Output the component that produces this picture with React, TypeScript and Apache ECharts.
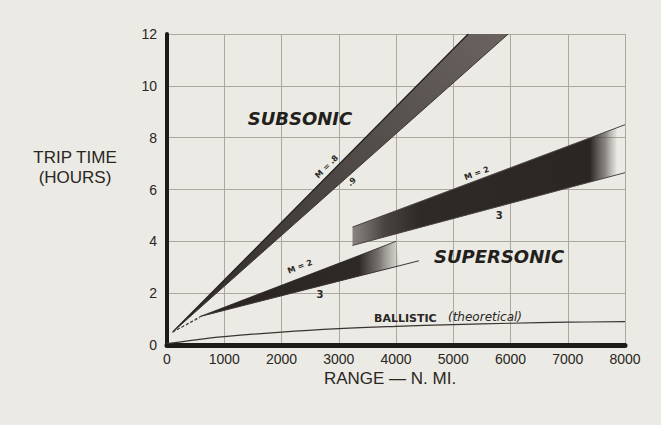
import React, { useEffect, useRef } from "react";
import * as echarts from "echarts";

// Axis ranges and tick steps
const rangeMin = 0;
const rangeMax = 8000;
const rangeStep = 1000;
const hoursMin = 0;
const hoursMax = 12;
const hoursStep = 2;

// Subsonic band edges (range n.mi., trip time h)
const subsonicM08 = [[100, 0.5], [5260, 12]];
const subsonicM09 = [[100, 0.5], [5960, 12]];

// Supersonic climb-out (dashed) leads
const supersonicLeadM2 = [[100, 0.5], [580, 1.1]];
const supersonicLeadM3 = [[100, 0.5], [580, 1.06]];

// Supersonic, non-stop band
const supersonicDirectM2 = [[580, 1.1], [4000, 4.0]];
const supersonicDirectM3 = [[580, 1.1], [4400, 3.25]];

// Supersonic band with intermediate stop
const supersonicStopM2 = [[3240, 4.55], [8000, 8.5]];
const supersonicStopM3 = [[3240, 3.84], [8000, 6.65]];

// Ballistic (theoretical)
const ballistic = [
  [0, 0.05], [500, 0.2], [1000, 0.32], [2000, 0.5], [3000, 0.63],
  [4000, 0.72], [5000, 0.79], [6000, 0.84], [7000, 0.88], [8000, 0.9],
];

const INK = "#2a2623";
const GRID = "#aca79f";

type Pt = number[];

function lerpAt(edge: Pt[], x: number): Pt {
  const [a, b] = edge;
  const t = (x - a[0]) / (b[0] - a[0]);
  return [x, a[1] + t * (b[1] - a[1])];
}

export default function App() {
  const ref = useRef<HTMLDivElement>(null);

  useEffect(() => {
    if (!ref.current) return;
    const chart = echarts.init(ref.current, undefined, { renderer: "svg" });

    const bandSeries = (
      name: string,
      upper: Pt[],
      lower: Pt[],
      endX: number,
      stops: (x0: number, x1: number) => any
    ) => ({
      name,
      type: "custom",
      coordinateSystem: "cartesian2d",
      silent: true,
      z: 3,
      data: [[0, 0]],
      renderItem: (_p: any, api: any) => {
        const up = [upper[0], lerpAt(upper, Math.min(endX, upper[1][0]))];
        const lo = [lower[0], lerpAt(lower, Math.min(endX, lower[1][0]))];
        const pts = [...up, ...lo.reverse()].map((p) => api.coord(p));
        const x0 = api.coord(upper[0])[0];
        const x1 = api.coord([endX, 0])[0];
        return {
          type: "polygon",
          shape: { points: pts },
          style: { fill: stops(x0, x1), stroke: "none" },
        };
      },
    });

    const edge = (data: Pt[], color: string, width = 1, dashed = false) => ({
      type: "line",
      data,
      silent: true,
      showSymbol: false,
      z: 4,
      lineStyle: { color, width, type: dashed ? [3, 2] : "solid" },
    });

    const option: any = {
      animation: false,
      backgroundColor: "#ebeae4",
      grid: { left: 167, top: 34, width: 458, height: 311 },
      xAxis: {
        type: "value",
        min: rangeMin,
        max: rangeMax,
        interval: rangeStep,
        axisLine: { show: true, onZero: false, lineStyle: { color: "#1d1a18", width: 5 } },
        axisTick: { show: false },
        splitLine: { show: true, lineStyle: { color: GRID, width: 1 } },
        axisLabel: {
          margin: 7,
          color: INK,
          fontFamily: "Liberation Sans",
          fontSize: 14,
          formatter: (v: number) => String(v),
        },
      },
      yAxis: {
        type: "value",
        min: hoursMin,
        max: hoursMax,
        interval: hoursStep,
        axisLine: { show: true, onZero: false, lineStyle: { color: "#1d1a18", width: 4 } },
        axisTick: { show: false },
        splitLine: { show: true, lineStyle: { color: GRID, width: 1 } },
        axisLabel: {
          margin: 10,
          color: INK,
          fontFamily: "Liberation Sans",
          fontSize: 14,
          formatter: (v: number) => String(v),
        },
      },
      series: [
        {
          type: "custom",
          coordinateSystem: "cartesian2d",
          silent: true,
          z: 3,
          data: [[0, 0]],
          renderItem: (_p: any, api: any) => {
            const pts = [...subsonicM08, ...[...subsonicM09].reverse()].map((p) => api.coord(p));
            const a = api.coord(subsonicM08[0]);
            const b = api.coord(subsonicM09[1]);
            return {
              type: "polygon",
              shape: { points: pts },
              style: {
                fill: {
                  type: "linear",
                  x: a[0], y: a[1], x2: b[0], y2: b[1],
                  global: true,
                  colorStops: [
                    { offset: 0, color: "#2c2725" },
                    { offset: 0.45, color: "#4a4541" },
                    { offset: 1, color: "#6a635f" },
                  ],
                },
                stroke: "none",
              },
            };
          },
        },
        bandSeries("direct", supersonicDirectM2, supersonicDirectM3, 4050, (x0, x1) => ({
          type: "linear", x: x0, y: 0, x2: x1, y2: 0, global: true,
          colorStops: [
            { offset: 0, color: "#2a2523" },
            { offset: 0.8, color: "#2e2926" },
            { offset: 0.9, color: "rgba(70,64,60,0.7)" },
            { offset: 1, color: "rgba(120,114,110,0.15)" },
          ],
        })),
        bandSeries("stop", supersonicStopM2, supersonicStopM3, 7850, (x0, x1) => ({
          type: "linear", x: x0, y: 0, x2: x1, y2: 0, global: true,
          colorStops: [
            { offset: 0, color: "rgba(120,114,110,0.85)" },
            { offset: 0.12, color: "#4a4441" },
            { offset: 0.25, color: "#2f2a27" },
            { offset: 0.9, color: "#2b2624" },
            { offset: 0.96, color: "rgba(80,74,70,0.6)" },
            { offset: 1, color: "rgba(130,124,120,0.1)" },
          ],
        })),
        edge(subsonicM08, "#221e1c", 1.2),
        edge(subsonicM09, "#3a3431", 1),
        edge(supersonicLeadM2, "#4a4441", 1, true),
        edge(supersonicLeadM3, "#4a4441", 1, true),
        edge(supersonicDirectM2, "#2a2523", 0.8),
        edge(supersonicDirectM3, "#3a3431", 1),
        edge(supersonicStopM2, "#4a4441", 1),
        edge(supersonicStopM3, "#4a4441", 1),
        {
          type: "line",
          data: ballistic,
          smooth: 0.4,
          silent: true,
          showSymbol: false,
          z: 4,
          lineStyle: { color: "#3a3431", width: 1.2 },
        },
      ],
    };

    chart.setOption(option);

    const px = (p: Pt) => chart.convertToPixel({ gridIndex: 0 }, p) as number[];
    const angleOf = (e: Pt[]) => {
      const a = px(e[0]);
      const b = px(e[1]);
      return Math.atan2(a[1] - b[1], b[0] - a[0]);
    };

    const note = (text: string, at: Pt, rotation: number, style: any) => {
      const p = px(at);
      return {
        type: "text",
        x: p[0],
        y: p[1],
        rotation,
        z: 10,
        style: {
          text,
          fill: INK,
          align: "center",
          verticalAlign: "middle",
          ...style,
        },
      };
    };

    const title = (text: string, x: number, y: number) => ({
      type: "text",
      x,
      y,
      style: {
        text,
        fill: INK,
        fontFamily: "Liberation Sans",
        fontSize: 17,
        letterSpacing: 1,
        align: "center",
        verticalAlign: "middle",
      },
    });

    const small = { fontFamily: "DejaVu Sans", fontSize: 8, fontWeight: "bold" };
    const script = {
      fontFamily: "DejaVu Sans",
      fontSize: 18,
      fontStyle: "italic",
      fontWeight: "bold",
      fill: "#231f1d",
    };

    chart.setOption({
      graphic: [
        title("TRIP TIME", 75, 157),
        title("(HOURS)", 75, 177),
        title("RANGE — N. MI.", 390, 378),
        note("SUBSONIC", [2323, 8.75], 0, script),
        note("SUPERSONIC", [5800, 3.4], 0, script),
        note("M = .8", [2790, 6.88], angleOf(subsonicM08), small),
        note(".9", [3226, 6.3], angleOf(subsonicM09), small),
        note("M = 2", [2323, 3.02], angleOf(supersonicDirectM2), small),
        note("3", [2672, 1.93], 0, { ...small, fontSize: 10 }),
        note("M = 2", [5410, 6.62], angleOf(supersonicStopM2), small),
        note("3", [5804, 4.98], 0, { ...small, fontSize: 10 }),
        note("BALLISTIC", [3616, 1.04], 0, {
          fontFamily: "DejaVu Sans",
          fontSize: 11,
          fontWeight: "bold",
          align: "left",
        }),
        note("(theoretical)", [4908, 1.08], 0, {
          fontFamily: "DejaVu Sans",
          fontSize: 12,
          fontStyle: "italic",
          letterSpacing: 0.8,
          align: "left",
        }),
      ],
    });

    return () => chart.dispose();
  }, []);

  return (
    <div
      ref={ref}
      style={{ position: "fixed", left: 0, top: 0, width: 661, height: 425 }}
    />
  );
}
